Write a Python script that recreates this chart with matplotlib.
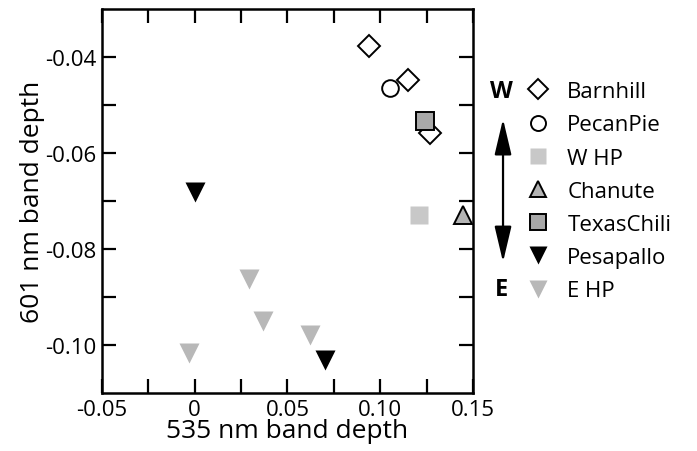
import numpy as np
import matplotlib.pyplot as plt

plt.rcParams['font.family'] = ['Open Sans', 'DejaVu Sans']

# 535 nm / 601 nm band depths by site
barnhill_x = [0.094, 0.115, 0.127]
barnhill_y = [-0.0377, -0.0447, -0.0559]
pecanpie_x = [0.105]
pecanpie_y = [-0.0464]
whp_x = [0.121]
whp_y = [-0.0730]
chanute_x = [0.1445]
chanute_y = [-0.0730]
texas_x = [0.124]
texas_y = [-0.0534]
pesapallo_x = [0.0, 0.070]
pesapallo_y = [-0.0682, -0.1031]
ehp_x = [-0.003, 0.029, 0.037, 0.062]
ehp_y = [-0.1016, -0.0862, -0.0949, -0.0979]

xticks = [-0.05, 0, 0.05, 0.10, 0.15]
xticklabels = ['-0.05', '0', '0.05', '0.10', '0.15']
yticks = [-0.04, -0.06, -0.08, -0.10]
yticklabels = ['-0.04', '-0.06', '-0.08', '-0.10']

fig = plt.figure(figsize=(6.97, 4.52), dpi=100)
ax = fig.add_axes([0.1463, 0.1283, 0.5323, 0.8497])

lw = 1.4
ax.plot(barnhill_x, barnhill_y, 'D', ms=11, mfc='white', mec='black', mew=lw, label='Barnhill')
ax.plot(pecanpie_x, pecanpie_y, 'o', ms=12, mfc='white', mec='black', mew=lw, label='PecanPie')
ax.plot(whp_x, whp_y, 's', ms=13, mfc='#c8c8c8', mec='none', label='W HP')
ax.plot(chanute_x, chanute_y, '^', ms=13, mfc='#b4b4b4', mec='black', mew=lw, label='Chanute')
ax.plot(texas_x, texas_y, 's', ms=13, mfc='#a8a8a8', mec='black', mew=lw, label='TexasChili')
ax.plot(pesapallo_x, pesapallo_y, 'v', ms=15, mfc='black', mec='none', label='Pesapallo')
ax.plot(ehp_x, ehp_y, 'v', ms=15, mfc='#b8b8b8', mec='none', label='E HP')

ax.set_xlim(-0.05, 0.15)
ax.set_ylim(-0.11, -0.03)
ax.set_xticks(xticks)
ax.set_xticklabels(xticklabels)
ax.set_yticks(yticks)
ax.set_yticklabels(yticklabels)
ax.set_xticks(np.arange(-0.025, 0.15, 0.05), minor=True)
ax.set_yticks([-0.05, -0.07, -0.09], minor=True)
ax.tick_params(which='both', direction='in', top=True, right=True,
               length=10, width=1.6, labelsize=16, pad=4)
for s in ax.spines.values():
    s.set_linewidth(1.8)

ax.set_xlabel('535 nm band depth', fontsize=19, labelpad=-1)
ax.set_ylabel('601 nm band depth', fontsize=19, labelpad=0)

fig.legend(loc='upper left', bbox_to_anchor=(0.739, 0.838), frameon=False,
           fontsize=16, labelspacing=0.55, handletextpad=0.65,
           handlelength=1.3, borderaxespad=0, numpoints=1, markerscale=0.9)

fig.text(0.720, 0.797, 'W', fontsize=17, fontweight='bold', ha='center', va='center')
fig.text(0.720, 0.358, 'E', fontsize=17, fontweight='bold', ha='center', va='center')
ax.annotate('', xy=(0.7217, 0.7345), xytext=(0.7217, 0.418), xycoords='figure fraction',
            textcoords='figure fraction',
            arrowprops=dict(arrowstyle='<|-|>,head_length=1.1,head_width=0.26',
                            mutation_scale=20, color='black', lw=1.6,
                            shrinkA=0, shrinkB=0))

fig.savefig('out.png', dpi=100)
